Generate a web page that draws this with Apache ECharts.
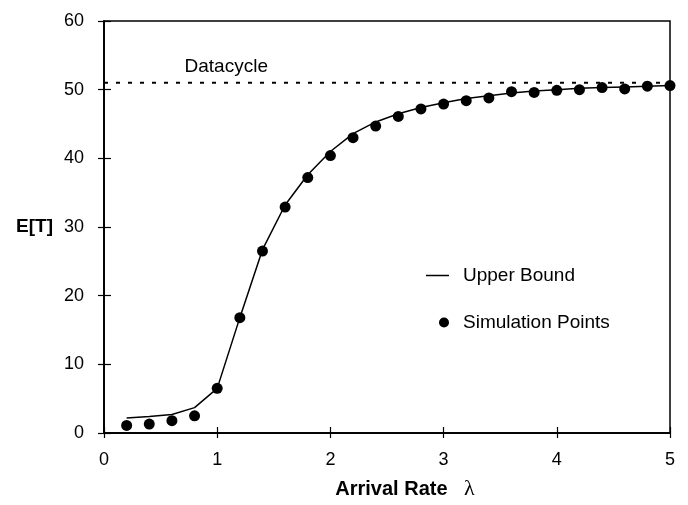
<!DOCTYPE html>
<html>
<head>
<meta charset="utf-8">
<script src="https://cdn.jsdelivr.net/npm/echarts@6/dist/echarts.min.js"></script>
<style>
html,body{margin:0;padding:0;background:#fff;}
#chart{width:688px;height:505px;}
</style>
</head>
<body>
<div id="chart"></div>
<script>
var xValues = [0.2,0.4,0.6,0.8,1.0,1.2,1.4,1.6,1.8,2.0,2.2,2.4,2.6,2.8,3.0,3.2,3.4,3.6,3.8,4.0,4.2,4.4,4.6,4.8,5.0];
var upperBound = [2.2,2.4,2.7,3.7,6.5,16.8,26.7,33.2,37.6,41.0,43.6,45.3,46.5,47.4,48.1,48.7,49.1,49.5,49.8,50.0,50.2,50.3,50.4,50.5,50.6];
var simulation = [1.1,1.3,1.8,2.5,6.5,16.8,26.5,32.9,37.2,40.4,43.0,44.7,46.1,47.2,47.9,48.4,48.8,49.7,49.6,49.9,50.0,50.3,50.1,50.5,50.6];
var datacycleValue = 51;
var datacycleRange = [0, 5];
var datacycleLabelPos = [1.08, 53.3];

function pairs(xs, ys){ return xs.map(function(x,i){ return [x, ys[i]]; }); }

var chart = echarts.init(document.getElementById('chart'), null, {renderer:'canvas'});
var font = 'Liberation Sans, Arial, Helvetica, sans-serif';
var axisCommon = {
  type:'value',
  axisLine:{show:true, lineStyle:{color:'#000', width:1.5}},
  splitLine:{show:false},
  axisLabel:{color:'#000', fontSize:18, fontFamily:font},
  axisTick:{show:true, lineStyle:{color:'#000', width:1.2}}
};
var option = {
  animation:false,
  backgroundColor:'#fff',
  grid:{left:104, right:18, top:21, bottom:72, show:true, borderColor:'#000', borderWidth:1.5},
  xAxis:[
    Object.assign({}, axisCommon, {
      min:0, max:5, interval:1, position:'bottom',
      axisTick:{show:true, length:5, inside:false, lineStyle:{color:'#000', width:1.2}},
      axisLabel:{color:'#000', fontSize:18, fontFamily:font, margin:18},
      name:'{b|Arrival Rate}{l|   λ}', nameLocation:'middle', nameGap:45,
      nameTextStyle:{padding:[0,0,0,36], rich:{
        b:{fontWeight:'bold', fontSize:20, fontFamily:font, color:'#000'},
        l:{fontSize:22, fontFamily:'Liberation Serif, DejaVu Serif, serif', color:'#000'}
      }}
    }),
    Object.assign({}, axisCommon, {
      min:0, max:5, interval:1, position:'bottom',
      axisTick:{show:true, length:6, inside:true, lineStyle:{color:'#000', width:1.2}},
      axisLabel:{show:false}
    })
  ],
  yAxis:[
    Object.assign({}, axisCommon, {
      min:0, max:60, interval:10, position:'left',
      axisTick:{show:true, length:6, inside:false, lineStyle:{color:'#000', width:1.2}},
      axisLabel:{color:'#000', fontSize:18, fontFamily:font, margin:20},
      name:'E[T]', nameLocation:'middle', nameGap:51, nameRotate:0,
      nameTextStyle:{fontWeight:'bold', fontSize:19, fontFamily:font, color:'#000', align:'right', verticalAlign:'middle'}
    }),
    Object.assign({}, axisCommon, {
      min:0, max:60, interval:10, position:'left',
      axisTick:{show:true, length:7, inside:true, lineStyle:{color:'#000', width:1.2}},
      axisLabel:{show:false}
    })
  ],
  legend:[
    {id:'lg1', data:[{name:'Upper Bound', icon:'rect', itemStyle:{color:'#000', opacity:1}}],
     left:426, top:266, orient:'vertical', padding:0,
     itemWidth:23, itemHeight:1.5,
     textStyle:{color:'#000', fontSize:19, fontFamily:font, padding:[0,0,0,9]}},
    {id:'lg2', data:[{name:'Simulation Points', icon:'circle', itemStyle:{color:'#000', opacity:1}}],
     left:439, top:313, orient:'vertical', padding:0,
     itemWidth:10, itemHeight:10,
     textStyle:{color:'#000', fontSize:19, fontFamily:font, padding:[0,0,0,9]}}
  ],
  series:[
    {name:'Datacycle', type:'line', data:[[datacycleRange[0], datacycleValue],[datacycleRange[1], datacycleValue]],
     symbol:'none', lineStyle:{color:'#000', width:2, type:[4,8]}, silent:true, z:1},
    {name:'DatacycleLabel', type:'scatter', data:[datacycleLabelPos], symbolSize:0, silent:true,
     itemStyle:{opacity:1},
     label:{show:true, position:'inside', formatter:'Datacycle', color:'#000', opacity:1, textBorderWidth:0, fontSize:19, fontFamily:font}},
    {name:'Upper Bound', type:'line', data:pairs(xValues, upperBound), symbol:'none',
     lineStyle:{color:'#000', width:1.5}, z:3},
    {name:'Simulation Points', type:'scatter', data:pairs(xValues, simulation), symbol:'circle', symbolSize:11,
     itemStyle:{color:'#000', opacity:1}, z:4}
  ]
};
chart.setOption(option);
</script>
</body>
</html>
